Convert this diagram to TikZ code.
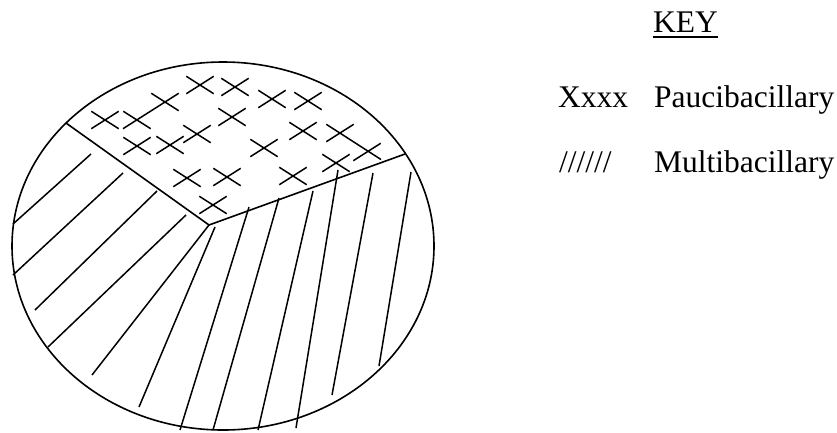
\documentclass[tikz,border=0pt]{standalone}
\usepackage{fontspec}
\setmainfont{Liberation Serif}
\begin{document}
\begin{tikzpicture}[x=1pt,y=-1pt,
  outline/.style={line width=1.6pt},
  hatch/.style={line width=1.5pt},
  keytext/.style={inner sep=0pt,anchor=base west,font=\fontsize{31.5}{36}\selectfont},
  bstroke/.pic={\draw[hatch] (-13.7,-8.7) -- (13.7,8.7);},
  sstroke/.pic={\draw[hatch] (-13.7,8.7) -- (13.7,-8.7);},
  xmark/.pic={\draw[hatch] (-13.7,-8.7) -- (13.7,8.7) (-13.7,8.7) -- (13.7,-8.7);}]
\useasboundingbox (0,0) rectangle (837,432);
% outline
\draw[outline] (223,246) ellipse [x radius=211, y radius=184];
% dividing lines
\coordinate (v) at (209,225);
\coordinate (dl) at (66,123);
\coordinate (dr) at (405,154);
\draw[outline] (dl) -- (v) -- (dr);
% hatching, left region
\draw[hatch] (91,154) -- (13,224);
\draw[hatch] (123,173) -- (13,275);
\draw[hatch] (157,191) -- (35,310);
\draw[hatch] (186,215) -- (48,347);
\draw[hatch] (v) -- (92,375);
% hatching, right region
\draw[hatch] (215,227) -- (139,407);
\draw[hatch] (249,207) -- (180,430);
\draw[hatch] (279,198) -- (213,430);
\draw[hatch] (313,191) -- (258,430);
\draw[hatch] (338,170) -- (296,428);
\draw[hatch] (373,173) -- (332,395);
\draw[hatch] (411,172) -- (379,366);
% crosses
\foreach \p in {(200,85),(235,87),(272,99),(308,101),(105,120),
  (232,117),(197,134),(303,131),(137,146),(170,145),(264,148),
  (336,163),(187,178),(227,177),(293,176),(213,205)}
  \pic at \p {xmark};
\pic at (137,120) {bstroke};
\pic at (165,102) {bstroke};
\pic at (340,133) {sstroke};
\pic at (367,152) {sstroke};
\draw[hatch] (123,128.7) -- (178.7,93.3);
\draw[hatch] (326.3,124.3) -- (381,159.5);
% key
\node[keytext,anchor=base] (key) at (685.5,32) {KEY};
\draw[line width=1.6pt] ([yshift=-5pt]key.base west) -- ([yshift=-5pt]key.base east);
\node[keytext] (xs) at (558,107) {Xxxx};
\node[keytext] (pb) at (654,107) {Paucibacillary};
\node[keytext] (sl) at (559,172) {//////};
\node[keytext] (mb) at (654,172) {Multibacillary};
\end{tikzpicture}
\end{document}
